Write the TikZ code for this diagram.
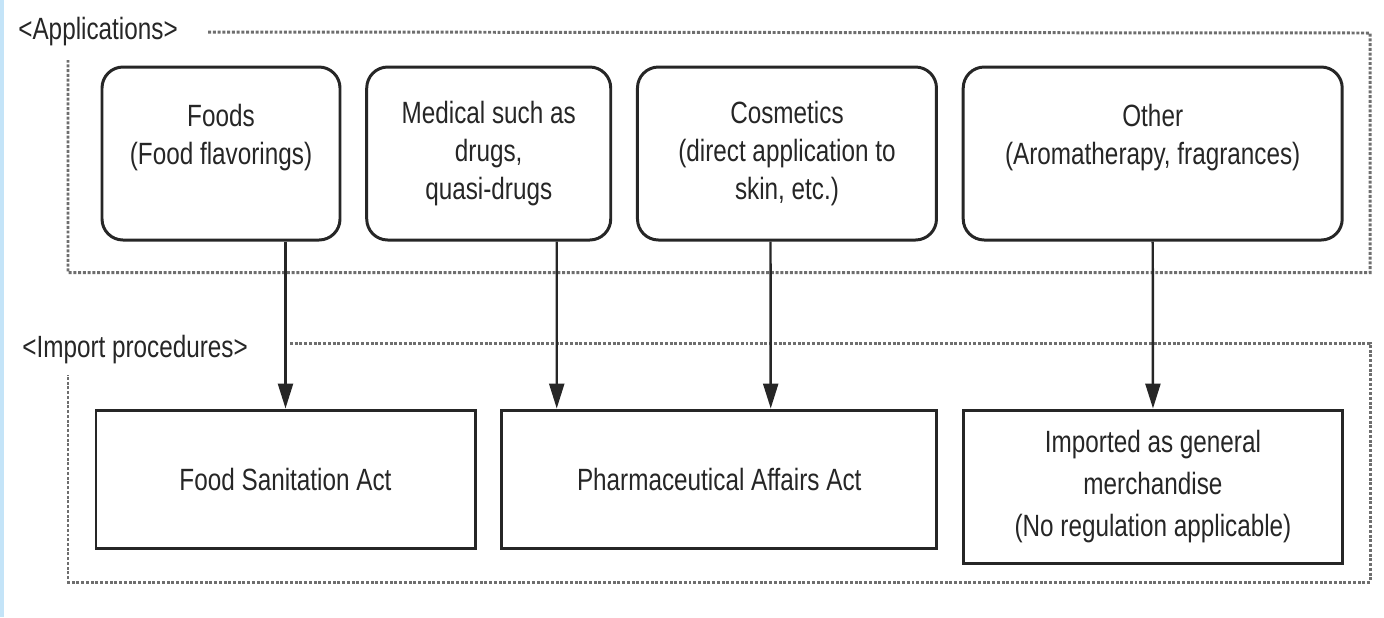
\documentclass[tikz,border=0pt]{standalone}
\usepackage{fontspec}
\setmainfont{Liberation Sans}[FakeStretch=0.79]
\usepackage{tikz}
\usetikzlibrary{arrows.meta,positioning,calc}
\definecolor{flowInk}{HTML}{262626}
\definecolor{flowFrame}{HTML}{6E6E6E}
\definecolor{flowEdge}{RGB}{196,228,248}
\tikzset{
    flowBoxBase/.style={
        rectangle,
        draw=flowInk,
        line width=1.7pt,
        fill=white,
        text=flowInk,
        font=\fontsize{17.5}{21.5}\selectfont,
        align=center,
        inner sep=4pt
    },
    % Applications / procedures
    appbox/.style={flowBoxBase, rounded corners=0.42cm, minimum height=3.46cm},
    lawbox/.style={flowBoxBase, minimum height=2.76cm},
    % Section frames
    frame/.style={draw=flowFrame, densely dotted, line width=1.7pt},
    section/.style={font=\fontsize{17.5}{21.5}\selectfont, text=flowInk, anchor=west, inner sep=0pt}
}
\begin{document}
\begin{tikzpicture}[
    arr/.style={-{Triangle[length=0.5cm, width=0.3cm]}, line width=1.4pt, draw=flowInk}
]
\useasboundingbox (0,0) rectangle (27.68,-12.34);
\fill[flowEdge] (0,0) rectangle (0.08,-12.34);

% Applications
\node[section] (appLabel) at (0.36,-0.64) {<Applications>};
\draw[frame] ([xshift=0.6cm]appLabel.east) -- (27.4,-0.66) -- (27.4,-5.45) -- (1.36,-5.45) -- (1.36,-1.2);

\node[appbox, minimum width=4.76cm] (foods) at (4.42,-3.07) {Foods\\(Food flavorings)\\\mbox{}};
\node[appbox, minimum width=4.88cm, right=0.475cm of foods] (medical) {Medical such as\\drugs,\\quasi-drugs};
\node[appbox, minimum width=5.98cm, right=0.475cm of medical] (cosm) {Cosmetics\\(direct application to\\skin, etc.)};
\node[appbox, minimum width=7.58cm, right=0.475cm of cosm] (other) {Other\\(Aromatherapy, fragrances)\\\mbox{}};

% Import procedures
\node[section] (impLabel) at (0.44,-7.0) {<Import procedures>};
\draw[frame] (5.8,-6.86) -- (27.4,-6.86) -- (27.4,-11.64) -- (1.36,-11.64) -- (1.36,-7.5);

\node[lawbox, minimum width=7.58cm] (fsa) at (5.71,-9.58) {Food Sanitation Act};
\node[lawbox, minimum width=8.70cm, right=0.475cm of fsa] (pharm) {Pharmaceutical Affairs Act};
\node[lawbox, minimum width=7.58cm, minimum height=3.06cm, font=\fontsize{17.5}{24}\selectfont,
      right=0.475cm of pharm.north east, anchor=north west] (misc) {Imported as general\\merchandise\\(No regulation applicable)};

\draw[arr] (fsa.north |- foods.south) -- (fsa.north);
\draw[arr] ([xshift=1.36cm]medical.south) -- ([xshift=-3.25cm]pharm.north);
\draw[arr] ([xshift=-0.33cm]cosm.south) -- ([xshift=1.03cm]pharm.north);
\draw[arr] (other.south) -- (misc.north);
\end{tikzpicture}
\end{document}
